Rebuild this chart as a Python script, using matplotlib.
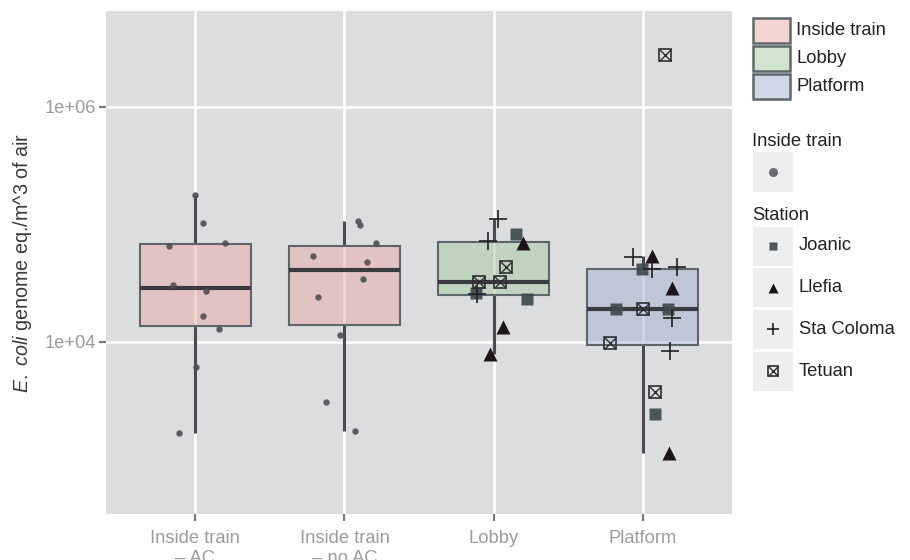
import numpy as np
import matplotlib
matplotlib.use("Agg")
import matplotlib.pyplot as plt
from matplotlib import cbook
from matplotlib.patches import Rectangle
from matplotlib.ticker import FixedLocator, FixedFormatter, NullLocator

plt.rcParams['font.family'] = ['Liberation Sans', 'DejaVu Sans']
plt.rcParams['mathtext.fontset'] = 'custom'
plt.rcParams['mathtext.it'] = 'Liberation Sans:italic'
plt.rcParams['mathtext.rm'] = 'Liberation Sans'

# ---------------- data ----------------
categories = ["Inside train\n\u2013 AC", "Inside train\n\u2013 no AC", "Lobby", "Platform"]
category_group = ["Inside train", "Inside train", "Lobby", "Platform"]
fill_groups = ["Inside train", "Lobby", "Platform"]
fill_rgb = ["#E7ABA4", "#A5CAA0", "#A3B2D0"]
stations = ["Joanic", "Llefia", "Sta Coloma", "Tetuan"]

train_ac = [179000, 103000, 66100, 69700, 30500, 27000, 16700, 12800, 6100, 1690]
train_ac_jitter = [-0.003, 0.049, -0.175, 0.197, -0.148, 0.071, 0.049, 0.158, 0.004, -0.112]
train_noac = [107200, 99500, 69200, 53950, 48200, 34600, 23990, 11530, 3080, 1760]
train_noac_jitter = [0.089, 0.107, 0.212, -0.211, 0.154, 0.125, -0.179, -0.028, -0.123, 0.073]

lobby_joanic = [82990, 25940, 23390]
lobby_joanic_jitter = [0.152, -0.119, 0.223]
lobby_llefia = [69980, 13490, 7850]
lobby_llefia_jitter = [0.199, 0.066, -0.021]
lobby_stacoloma = [110700, 72780, 25650]
lobby_stacoloma_jitter = [0.033, -0.034, -0.113]
lobby_tetuan = [43750, 32430, 32210]
lobby_tetuan_jitter = [0.085, -0.099, 0.046]

platform_joanic = [41590, 19100, 19100, 2440]
platform_joanic_jitter = [-0.005, -0.179, 0.170, 0.085]
platform_llefia = [53950, 28840, 1130]
platform_llefia_jitter = [0.062, 0.197, 0.174]
platform_stacoloma = [53210, 41590, 43750, 15920, 8430]
platform_stacoloma_jitter = [-0.061, 0.062, 0.230, 0.197, 0.181]
platform_tetuan = [18970, 9750, 3780, 2773000]
platform_tetuan_jitter = [0.006, -0.217, 0.085, 0.152]

lobby_by_station = [lobby_joanic, lobby_llefia, lobby_stacoloma, lobby_tetuan]
lobby_jit_by_station = [lobby_joanic_jitter, lobby_llefia_jitter, lobby_stacoloma_jitter, lobby_tetuan_jitter]
platform_by_station = [platform_joanic, platform_llefia, platform_stacoloma, platform_tetuan]
platform_jit_by_station = [platform_joanic_jitter, platform_llefia_jitter, platform_stacoloma_jitter, platform_tetuan_jitter]

# ---------------- styling ----------------
PANEL = "#DCDDDF"
BOX_EDGE = "#5F666B"
MED = "#3A3B40"
WHISK = "#4A4B50"
TICKC = "#9C9C9C"
FS = 13.2

station_style = {
    "Joanic": dict(marker='s', ms=8.6, color='#3F4A4C', mec='none', alpha=0.92),
    "Llefia": dict(marker='^', ms=10.5, color='#1C1418', mec='none'),
    "Sta Coloma": dict(marker='+', ms=12.5, color='#202020', mew=1.2),
}

fig = plt.figure(figsize=(9.1, 5.6), dpi=100)
ax = fig.add_axes([106/910, 1-514/560, (732-106)/910, (514-11)/560])
ax.set_facecolor(PANEL)
for s in ax.spines.values():
    s.set_visible(False)

ax.set_yscale('log')

positions = np.arange(1, len(categories) + 1)

# boxplots (stats computed in log space like scale_y_log10)
all_groups = [train_ac, train_noac,
              sum(lobby_by_station, []), sum(platform_by_station, [])]
stats = []
for vals in all_groups:
    st = cbook.boxplot_stats(np.log10(vals), whis=1.5)[0]
    for k in ('med', 'q1', 'q3', 'whislo', 'whishi'):
        st[k] = 10 ** st[k]
    st['fliers'] = []
    stats.append(st)

bp = ax.bxp(stats, positions=positions, widths=0.75, patch_artist=True,
            showfliers=False, showcaps=False, manage_ticks=False,
            boxprops=dict(edgecolor=BOX_EDGE, lw=1.5, zorder=3),
            whiskerprops=dict(color=WHISK, lw=2.2, zorder=2, solid_capstyle='butt'),
            medianprops=dict(color=MED, lw=3.0, zorder=4, solid_capstyle='butt'))
for patch, grp in zip(bp['boxes'], category_group):
    c = matplotlib.colors.to_rgb(fill_rgb[fill_groups.index(grp)])
    patch.set_facecolor((*c, 0.5))

# inside train points
for i, (vals, jit) in enumerate([(train_ac, train_ac_jitter), (train_noac, train_noac_jitter)]):
    ax.plot(positions[i] + np.array(jit), vals, 'o', ms=4.6, color='#4F4F53',
            mec='none', alpha=0.9, zorder=5, ls='none')

def draw_station(xc, vals, jit, name, scale=1.0, axis=ax):
    x = xc + np.array(jit)
    if name == "Tetuan":
        axis.plot(x, vals, ls='none', marker='s', ms=9.2*scale, mfc='none',
                  mec='#2E2E30', mew=1.2, zorder=6)
        axis.plot(x, vals, ls='none', marker='x', ms=9.2*scale, color='#2E2E30',
                  mew=1.0, zorder=6)
    else:
        st = dict(station_style[name])
        st['ms'] = st['ms'] * scale
        axis.plot(x, vals, ls='none', zorder=6, **st)

for name, vals, jit in zip(stations, lobby_by_station, lobby_jit_by_station):
    draw_station(positions[2], vals, jit, name)
for name, vals, jit in zip(stations, platform_by_station, platform_jit_by_station):
    draw_station(positions[3], vals, jit, name)

# axes limits, grid, ticks
ax.set_xlim(0.4, 4.6)
ax.set_ylim(10**2.536, 10**6.817)
ax.set_axisbelow(True)
ax.yaxis.set_major_locator(FixedLocator([1e4, 1e6]))
ax.yaxis.set_major_formatter(FixedFormatter(["1e+04", "1e+06"]))
ax.yaxis.set_minor_locator(NullLocator())
ax.xaxis.set_major_locator(FixedLocator(positions))
ax.xaxis.set_major_formatter(FixedFormatter(categories))
ax.xaxis.set_minor_locator(NullLocator())
ax.grid(True, which='major', color='white', lw=1.9)

ax.tick_params(axis='both', which='major', color='#7A7A7A', width=1.6, length=5,
               labelcolor=TICKC, labelsize=FS, pad=2)
ax.tick_params(axis='x', pad=6.5)
ax.set_ylabel(r"$\mathit{E.\ coli}$ genome eq./m^3 of air", fontsize=FS + 1.0,
              color='#3A3A3A', labelpad=8)

# ---------------- legends ----------------
lax = fig.add_axes([740/910, 0, 170/910, 1])
lax.set_xlim(0, 170)
lax.set_ylim(560, 0)
lax.axis('off')

LTXT = '#222222'
key_tops = [17.5, 45.5, 73.5]
for grp, col, top in zip(fill_groups, fill_rgb, key_tops):
    c = matplotlib.colors.to_rgb(col)
    lax.add_patch(Rectangle((12.5, top), 37.5, 25.5, facecolor=(*c, 0.5),
                            edgecolor=BOX_EDGE, lw=1.8))
    lax.text(56, top + 13, grp, fontsize=FS, color=LTXT, va='center', ha='left')

KEYBG = '#EDEEF0'
lax.text(12.5, 141, "Inside train", fontsize=FS, color=LTXT, va='center', ha='left')
lax.add_patch(Rectangle((13, 152), 40, 40, facecolor=KEYBG, edgecolor='none'))
lax.plot([33], [172], 'o', ms=6.5, color='#6B6B6F', mec='none')

lax.text(12.5, 215, "Station", fontsize=FS, color=LTXT, va='center', ha='left')
key_centers = [246, 287.5, 329, 371]
for name, cy in zip(stations, key_centers):
    lax.add_patch(Rectangle((13, cy - 19.5), 40, 39, facecolor=KEYBG, edgecolor='none'))
    draw_station(33, [cy], [0.0], name, scale=0.72, axis=lax)
    lax.text(59, cy, name, fontsize=FS, color=LTXT, va='center', ha='left')

fig.savefig("out.png", dpi=100, facecolor='white')
